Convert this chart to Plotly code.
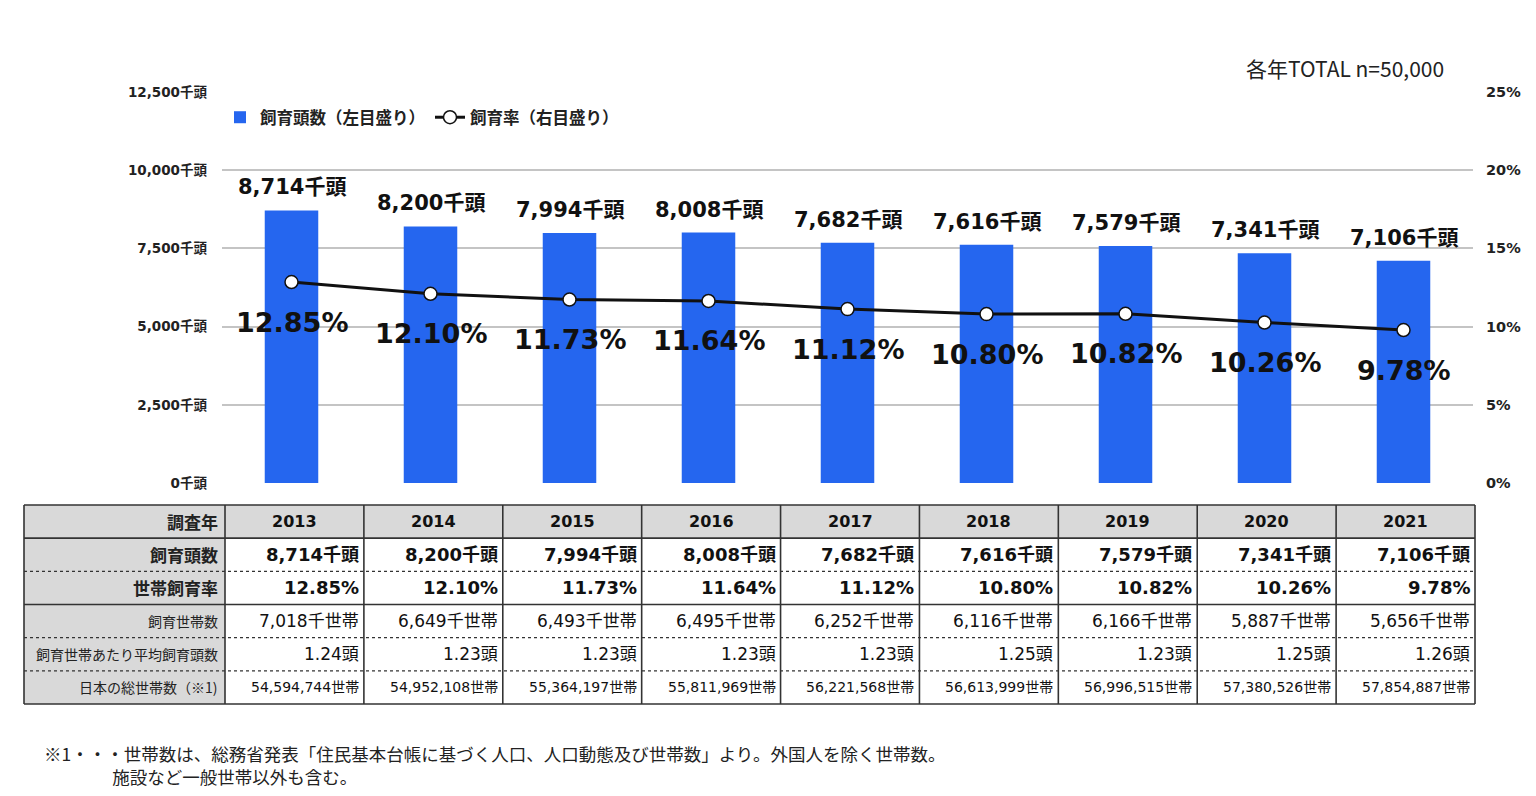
import plotly.graph_objects as go

# ---------------- data ----------------
years = ["2013", "2014", "2015", "2016", "2017", "2018", "2019", "2020", "2021"]
pets_k = [8714, 8200, 7994, 8008, 7682, 7616, 7579, 7341, 7106]          # 飼育頭数（千頭）
rate_pct = [12.85, 12.10, 11.73, 11.64, 11.12, 10.80, 10.82, 10.26, 9.78]  # 世帯飼育率（%）
households_k = [7018, 6649, 6493, 6495, 6252, 6116, 6166, 5887, 5656]     # 飼育世帯数（千世帯）
avg_per_household = [1.24, 1.23, 1.23, 1.23, 1.23, 1.25, 1.23, 1.25, 1.26]
total_households = [54594744, 54952108, 55364197, 55811969, 56221568,
                    56613999, 56996515, 57380526, 57854887]

left_ticks = [0, 2500, 5000, 7500, 10000, 12500]
right_ticks = [0, 5, 10, 15, 20, 25]

row_labels = ["調査年", "飼育頭数", "世帯飼育率", "飼育世帯数",
              "飼育世帯あたり平均飼育頭数", "日本の総世帯数（※1)"]

legend_bar = "飼育頭数（左目盛り）"
legend_line = "飼育率（右目盛り）"
note_total = "各年TOTAL n=50,000"
footnote = ("※1・・・世帯数は、総務省発表「住民基本台帳に基づく人口、人口動態及び世帯数」より。外国人を除く世帯数。"
            "<br>\u3000\u3000\u3000\u2002\u2009\u2009施設など一般世帯以外も含む。")

# ---------------- layout geometry (page pixels) ----------------
OFF = 8  # page body margin
W, H = 1520, 780
ML, MR, MT, MB = 12, 32, 32, 52


def px(xp):
    return (xp - OFF - ML) / (W - ML - MR)


def py(yp):
    return (H - MB - (yp - OFF)) / (H - MT - MB)


CH_L, CH_R, CH_T, CH_B = 222, 1473, 92, 483      # chart plot area
TC_L, TC_R = 225, 1475                           # table year columns
TAB_L, TAB_T, TAB_B = 24, 505, 704
n_rows = 6
row_h = (TAB_B - TAB_T) / n_rows
tcol_w = (TC_R - TC_L) / len(years)


def xu(xp):
    return (xp - TC_L) / tcol_w - 0.5


def yu(yp):
    return (yp - TAB_T) / row_h - 0.5


FONT = "DejaVu Sans, Noto Sans CJK JP, sans-serif"
JFONT = "Noto Sans CJK JP, sans-serif"
BLUE = "#2566ef"
TXT = "#111111"

fig = go.Figure()

fig.add_trace(go.Bar(
    x=years, y=pets_k, name="<b>" + legend_bar + "</b>",
    marker=dict(color=BLUE, line=dict(width=0)), width=0.385,
    xaxis="x", yaxis="y", hoverinfo="skip"))

fig.add_trace(go.Scatter(
    x=years, y=rate_pct, name="<b>" + legend_line + "</b>", mode="lines+markers",
    line=dict(color="#111111", width=3),
    marker=dict(size=13, color="white", line=dict(color="#111111", width=1.5)),
    xaxis="x", yaxis="y2", hoverinfo="skip"))

# invisible anchor trace for the table subplot
fig.add_trace(go.Scatter(x=[0], y=[0], mode="markers", marker=dict(opacity=0),
                         xaxis="x3", yaxis="y3", showlegend=False, hoverinfo="skip"))

annotations = []
# bar value labels
for i, v in enumerate(pets_k):
    annotations.append(dict(x=i, y=v, xref="x", yref="y", text=f"<b>{v:,}千頭</b>",
                            showarrow=False, yanchor="middle", yshift=23,
                            font=dict(family=FONT, size=21, color=TXT)))
# rate labels
for i, r in enumerate(rate_pct):
    annotations.append(dict(x=i, y=r, xref="x", yref="y2", text=f"<b>{r:.2f}%</b>",
                            showarrow=False, yanchor="middle", yshift=-40,
                            font=dict(family=FONT, size=27, color=TXT)))

# ---------------- table ----------------
shapes = []
left_u = xu(TAB_L)
right_u = len(years) - 0.5
# fills
shapes.append(dict(type="rect", xref="x3", yref="y3", x0=left_u, x1=right_u, y0=-0.5, y1=0.5,
                   fillcolor="#d9d9d9", line=dict(width=0), layer="below"))
shapes.append(dict(type="rect", xref="x3", yref="y3", x0=left_u, x1=-0.5, y0=0.5, y1=n_rows - 0.5,
                   fillcolor="#d9d9d9", line=dict(width=0), layer="below"))
# vertical lines
for xv in [left_u] + [i - 0.5 for i in range(len(years) + 1)]:
    shapes.append(dict(type="line", xref="x3", yref="y3", x0=xv, x1=xv, y0=-0.5, y1=n_rows - 0.5,
                       line=dict(color="#333333", width=1.6)))
# horizontal lines
h_styles = {-0.5: "solid", 0.5: "solid", 1.5: "dot", 2.5: "solid", 3.5: "dot", 4.5: "dot",
            5.5: "solid"}
for yv, dash in h_styles.items():
    shapes.append(dict(type="line", xref="x3", yref="y3", x0=left_u, x1=right_u, y0=yv, y1=yv,
                       line=dict(color="#333333", width=1.6 if dash == "solid" else 1.3,
                                 dash=dash)))

# row labels
label_sizes = [17, 17, 17, 14, 14, 14]
label_bold = [True, True, True, False, False, False]
for r, (lab, sz, b) in enumerate(zip(row_labels, label_sizes, label_bold)):
    annotations.append(dict(x=-0.5, y=r, xref="x3", yref="y3", xanchor="right", yanchor="middle",
                            xshift=-5, text=f"<b>{lab}</b>" if b else lab, showarrow=False,
                            font=dict(family=JFONT, size=sz, color="#222222")))

# cells
for i, yr in enumerate(years):
    annotations.append(dict(x=i, y=0, xref="x3", yref="y3", xanchor="center", yanchor="middle",
                            text=f"<b>{yr}</b>", showarrow=False,
                            font=dict(family=FONT, size=16, color=TXT)))
    cells = [
        (f"<b>{pets_k[i]:,}千頭</b>", 18),
        (f"<b>{rate_pct[i]:.2f}%</b>", 18),
        (f"{households_k[i]:,}千世帯", 17),
        (f"{avg_per_household[i]:.2f}頭", 17),
        (f"{total_households[i]:,}世帯", 14),
    ]
    for r, (txt, sz) in enumerate(cells, start=1):
        annotations.append(dict(x=i + 0.5, y=r, xref="x3", yref="y3", xanchor="right",
                                yanchor="middle", xshift=-3, text=txt, showarrow=False,
                                font=dict(family=FONT, size=sz, color=TXT)))

# other texts
annotations.append(dict(x=px(1345), y=py(68), xref="paper", yref="paper", xanchor="center",
                        yanchor="middle", text=note_total, showarrow=False,
                        font=dict(family=JFONT, size=21, color="#222222")))
annotations.append(dict(x=px(42), y=py(765), xref="paper", yref="paper", xanchor="left",
                        yanchor="middle", align="left", text=footnote, showarrow=False,
                        font=dict(family=JFONT, size=17.5, color="#222222")))

fig.update_layout(
    width=W, height=H,
    margin=dict(l=ML, r=MR, t=MT, b=MB, autoexpand=False),
    paper_bgcolor="white", plot_bgcolor="white",
    showlegend=True,
    legend=dict(orientation="h", x=px(220), y=py(100), xanchor="left", yanchor="top",
                font=dict(family=JFONT, size=16.5, color="#222222"), bgcolor="rgba(0,0,0,0)",
                itemwidth=30, tracegroupgap=0),
    xaxis=dict(domain=[px(CH_L), px(CH_R)], type="category", range=[-0.5, len(years) - 0.5],
               showticklabels=False, showgrid=False, zeroline=False, showline=False,
               anchor="y"),
    yaxis=dict(domain=[py(CH_B), py(CH_T)], range=[0, 12500], tickvals=left_ticks,
               ticktext=[f"<b>{v:,}千頭</b>" for v in left_ticks],
               tickfont=dict(family=FONT, size=13.5, color="#222222"),
               showgrid=True, gridcolor="#c4c4c4", gridwidth=1.5, zeroline=False,
               showline=False, ticks="", ticklabelstandoff=14, anchor="x", automargin=False),
    yaxis2=dict(overlaying="y", side="right", range=[0, 25], tickvals=right_ticks,
                ticktext=[f"<b>{v}%</b>" for v in right_ticks],
                tickfont=dict(family=FONT, size=14.5, color="#222222"),
                showgrid=False, zeroline=False, showline=False, ticks="",
                ticklabelstandoff=12, anchor="x", automargin=False),
    xaxis3=dict(domain=[px(TAB_L - 3), px(TC_R + 3)], range=[xu(TAB_L - 3), xu(TC_R + 3)],
                visible=False, anchor="y3", fixedrange=True),
    yaxis3=dict(domain=[py(TAB_B + 3), py(TAB_T - 3)], range=[yu(TAB_B + 3), yu(TAB_T - 3)],
                visible=False, anchor="x3", fixedrange=True),
    shapes=shapes,
    annotations=annotations,
)

fig.write_html("out.html")
